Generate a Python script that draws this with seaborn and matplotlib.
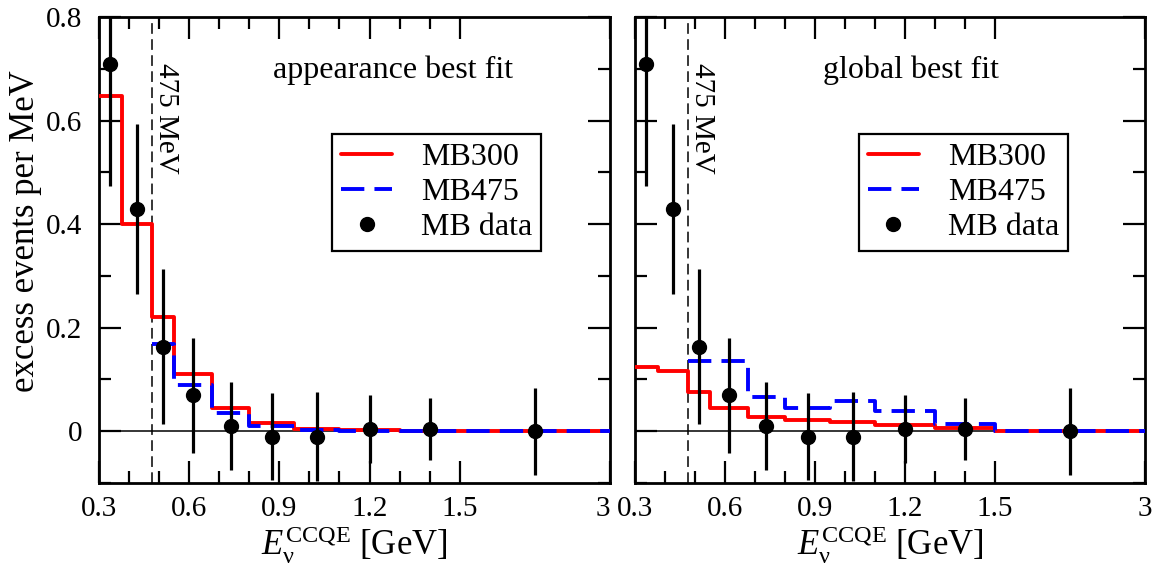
import numpy as np
import matplotlib
matplotlib.use("Agg")
import matplotlib.pyplot as plt
from matplotlib.lines import Line2D
from matplotlib.ticker import FixedLocator, FixedFormatter
from matplotlib.transforms import ScaledTranslation
import seaborn as sns

# bin edges of the MiniBooNE E_nu^CCQE binning (GeV)
edges = [0.3, 0.375, 0.475, 0.55, 0.675, 0.8, 0.95, 1.1, 1.3, 1.5, 3.0]
centers = [0.3375, 0.425, 0.5125, 0.6125, 0.7375, 0.875, 1.025, 1.2, 1.4, 2.25]

# MB data (excess events per MeV)
data_y = [0.709, 0.429, 0.163, 0.069, 0.010, -0.011, -0.011, 0.004, 0.005, 0.0]
data_err = [0.235, 0.164, 0.150, 0.112, 0.085, 0.084, 0.086, 0.066, 0.060, 0.084]

# appearance best fit
app_mb300 = [0.647, 0.401, 0.220, 0.110, 0.044, 0.016, 0.005, 0.002, 0.0, 0.0]
app_mb475 = [0.169, 0.089, 0.035, 0.011, 0.003, 0.001, 0.0, 0.0]  # from 475 MeV

# global best fit
glob_mb300 = [0.125, 0.116, 0.076, 0.044, 0.028, 0.022, 0.018, 0.012, 0.007, 0.0]
glob_mb475 = [0.136, 0.136, 0.067, 0.045, 0.059, 0.039, 0.013, 0.0]  # from 475 MeV

titles = ["appearance best fit", "global best fit"]
title_x = [0.575, 0.541]
legend_x = [0.456, 0.439]

sns.set_theme(style="ticks", rc={"axes.edgecolor": "black", "xtick.color": "black",
                                 "ytick.color": "black", "text.color": "black",
                                 "axes.labelcolor": "black"})
plt.rcParams["font.family"] = ["Liberation Serif", "DejaVu Serif"]
plt.rcParams["mathtext.fontset"] = "custom"
plt.rcParams["mathtext.rm"] = "Liberation Serif"
plt.rcParams["mathtext.it"] = "Liberation Serif:italic"
plt.rcParams["axes.linewidth"] = 2.0

FS = 23
TFS = 21


def fwd(x):
    x = np.asarray(x, dtype=float)
    return np.where(x <= 1.5, x, 1.5 + (x - 1.5) / 3.0)


def inv(y):
    y = np.asarray(y, dtype=float)
    return np.where(y <= 1.5, y, 1.5 + (y - 1.5) * 3.0)


fig = plt.figure(figsize=(11.63, 5.72), dpi=100)
W, H = 1163, 572
ax1 = fig.add_axes([99 / W, (H - 483) / H, 511 / W, 466 / H])
ax2 = fig.add_axes([635 / W, (H - 483) / H, 510 / W, 466 / H])

panels = [(ax1, app_mb300, app_mb475), (ax2, glob_mb300, glob_mb475)]

for i, (ax, mb300, mb475) in enumerate(panels):
    ax.set_xscale("function", functions=(fwd, inv))
    ax.set_xlim(0.3, 3.0)
    ax.set_ylim(-0.1, 0.8)

    ax.axhline(0, color="black", lw=1.1, zorder=1)
    ax.axvline(0.475, color="black", lw=1.1, dashes=(7, 3.5), zorder=1)

    sns.lineplot(x=edges, y=mb300 + [mb300[-1]], drawstyle="steps-post",
                 estimator=None, sort=False, color="#ff0000", lw=2.8,
                 ax=ax, zorder=3)
    e475 = edges[2:]
    sns.lineplot(x=e475, y=mb475 + [mb475[-1]], drawstyle="steps-post",
                 estimator=None, sort=False, color="#0000ff", lw=2.8,
                 ax=ax, zorder=4)
    ax.lines[-1].set_dashes((6, 2.6))

    ax.errorbar(centers, data_y, yerr=data_err, fmt="o", color="black",
                ms=10, elinewidth=2.3, capsize=0, zorder=5)

    ax.text(0.479, 0.712, "475 MeV", rotation=-90, ha="left", va="top",
            fontsize=21)
    ax.text(title_x[i], 0.886, titles[i], transform=ax.transAxes,
            ha="center", va="center", fontsize=FS)

    handles = [Line2D([], [], color="#ff0000", lw=2.8),
               Line2D([], [], color="#0000ff", lw=2.8, dashes=(6, 2.6)),
               Line2D([], [], color="black", marker="o", ls="none", ms=10)]
    leg = ax.legend(handles, ["MB300", "MB475", "MB data"], loc="upper left",
                    bbox_to_anchor=(legend_x[i], 0.75), fontsize=FS,
                    frameon=True, fancybox=False, framealpha=1,
                    edgecolor="black", handlelength=1.6, handletextpad=0.9,
                    labelspacing=0.18, borderpad=0.28, borderaxespad=0)
    leg.get_frame().set_linewidth(1.6)

    ax.xaxis.set_major_locator(FixedLocator([0.3, 0.6, 0.9, 1.2, 1.5, 3.0]))
    ax.xaxis.set_major_formatter(FixedFormatter(["0.3", "0.6", "0.9", "1.2", "1.5", "3"]))
    ax.xaxis.set_minor_locator(FixedLocator([0.4, 0.5, 0.7, 0.8, 1.0, 1.1, 1.3, 1.4]))
    ax.yaxis.set_major_locator(FixedLocator([0, 0.2, 0.4, 0.6, 0.8]))
    ax.yaxis.set_major_formatter(FixedFormatter(["0", "0.2", "0.4", "0.6", "0.8"]))
    ax.yaxis.set_minor_locator(FixedLocator([-0.1, 0.1, 0.3, 0.5, 0.7]))
    ax.tick_params(which="both", direction="in", top=True, right=True,
                   width=1.6, labelsize=TFS)
    ax.tick_params(axis="x", which="both", pad=9)
    ax.tick_params(axis="y", which="both", pad=12)
    ax.tick_params(which="major", length=16)
    ax.tick_params(which="minor", length=8.5)

    ax.set_xlabel(r"$E_{\mathrm{\nu}}^{\mathrm{CCQE}}$ [GeV]", fontsize=25, labelpad=2)

ax1.set_ylabel("excess events per MeV", fontsize=25)
ax1.yaxis.set_label_coords(-0.112, 0.54)
ax2.tick_params(labelleft=False)

# keep the "3" of the left panel clear of the "0.3" of the right panel
fig.canvas.draw()
lab3 = ax1.get_xticklabels()[-1]
lab3.set_transform(lab3.get_transform() + ScaledTranslation(-5 / 72, 0, fig.dpi_scale_trans))

fig.savefig("out.png", dpi=100)
